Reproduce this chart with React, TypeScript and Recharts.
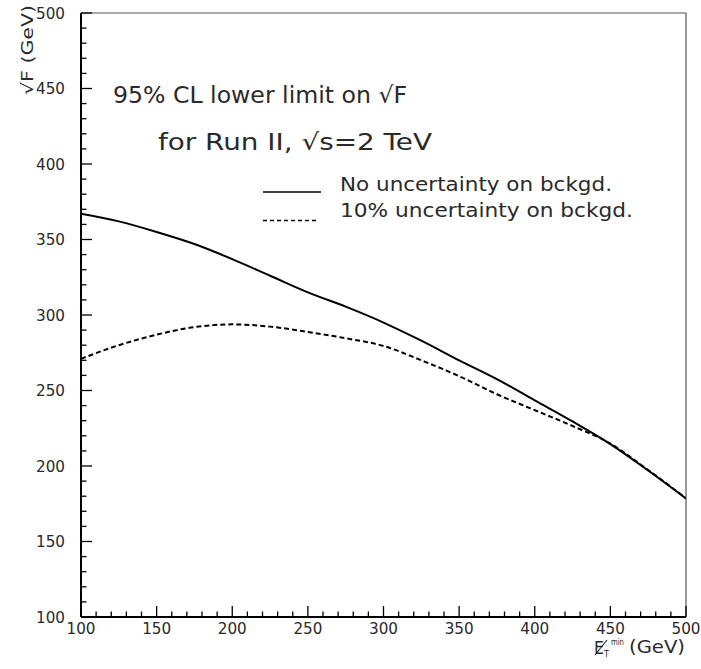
import React from 'react';
import { LineChart, Line, XAxis, YAxis, ReferenceLine, Legend, Customized } from 'recharts';

const etMin = [100, 125, 150, 175, 200, 225, 250, 275, 300, 325, 350, 375, 400, 425, 450, 475, 500];
const noUncertainty = [367, 362, 355, 347, 337, 326, 315, 305.5, 295, 283, 270, 257.5, 243.5, 229.5, 214.5, 197, 178.5];
const tenPctUncertainty = [271, 280, 287, 292, 293.8, 292.3, 288.8, 284.6, 279.5, 270, 259.5, 247.5, 237, 226.5, 214.8, 197.3, 178.6];
const seriesNames = ['No uncertainty on bckgd.', '10% uncertainty on bckgd.'];
const xTicks = [100, 110, 120, 130, 140, 150, 160, 170, 180, 190, 200, 210, 220, 230, 240, 250, 260, 270, 280, 290, 300, 310, 320, 330, 340, 350, 360, 370, 380, 390, 400, 410, 420, 430, 440, 450, 460, 470, 480, 490, 500];
const yTicks = [100, 110, 120, 130, 140, 150, 160, 170, 180, 190, 200, 210, 220, 230, 240, 250, 260, 270, 280, 290, 300, 310, 320, 330, 340, 350, 360, 370, 380, 390, 400, 410, 420, 430, 440, 450, 460, 470, 480, 490, 500];
const majorStep = 50;

const data = etMin.map((x, i) => ({ x, solid: noUncertainty[i], dashed: tenPctUncertainty[i] }));

const FONT = '"DejaVu Sans", sans-serif';
const TXT = '#2a2a2a';

const YTick = (props: any) => {
  const { x, y, payload } = props;
  const v = payload.value;
  const major = v % majorStep === 0;
  return (
    <g>
      <line x1={x} x2={x + (major ? 11 : 5.5)} y1={y} y2={y} stroke="#000" strokeWidth={1.3} />
      {major && (
        <text x={x - 16} y={y + 5.5} textAnchor="end" fontSize={15} fontFamily={FONT} fill={TXT}
          textLength={29} lengthAdjust="spacingAndGlyphs">
          {v}
        </text>
      )}
    </g>
  );
};

const XTick = (props: any) => {
  const { x, y, payload } = props;
  const v = payload.value;
  const major = v % majorStep === 0;
  return (
    <g>
      <line x1={x} x2={x} y1={y} y2={y - (major ? 11 : 5.5)} stroke="#000" strokeWidth={1.3} />
      {major && (
        <text x={x} y={y + 17} textAnchor="middle" fontSize={15} fontFamily={FONT} fill={TXT}
          textLength={29} lengthAdjust="spacingAndGlyphs">
          {v}
        </text>
      )}
    </g>
  );
};

const LegendContent = (props: any) => {
  const items = (props.payload || []).slice().sort(
    (a: any, b: any) => seriesNames.indexOf(a.value) - seriesNames.indexOf(b.value)
  );
  return (
    <svg width={420} height={60} style={{ display: 'block', overflow: 'visible' }}>
      {items.map((it: any, i: number) => {
        const dashed = !!(it.payload && it.payload.strokeDasharray);
        const ly = i === 0 ? 17 : 45.5;
        const ty = i === 0 ? 15.5 : 41.5;
        return (
          <g key={i}>
            <line
              x1={0}
              x2={dashed ? 55 : 58}
              y1={ly}
              y2={ly}
              stroke="#000"
              strokeWidth={1.5}
              strokeDasharray={dashed ? '4 3' : undefined}
            />
            <text
              x={77}
              y={ty}
              fontSize={19}
              fontFamily={FONT}
              fill={TXT}
              textLength={i === 0 ? 272 : 293}
              lengthAdjust="spacingAndGlyphs"
            >
              {it.value}
            </text>
          </g>
        );
      })}
    </svg>
  );
};

const Annotations = () => (
  <g fontFamily={FONT} fill={TXT}>
    <text x={113} y={103} fontSize={23} textLength={294} lengthAdjust="spacingAndGlyphs">
      95% CL lower limit on √F
    </text>
    <text x={158} y={150} fontSize={23} textLength={274} lengthAdjust="spacingAndGlyphs">
      for Run II, √s=2 TeV
    </text>
    <text
      transform="translate(33,5) rotate(-90)"
      x={0}
      y={0}
      textAnchor="end"
      fontSize={16}
      textLength={90}
      lengthAdjust="spacingAndGlyphs"
    >
      √F (GeV)
    </text>
    <text x={594} y={654} fontSize={17} textLength={10} lengthAdjust="spacingAndGlyphs">E</text>
    <line x1={595} y1={655} x2={607} y2={640} stroke={TXT} strokeWidth={1.2} />
    <text x={604} y={657} fontSize={8}>T</text>
    <text x={611} y={645} fontSize={9} textLength={13} lengthAdjust="spacingAndGlyphs">min</text>
    <text x={629} y={653} fontSize={17} textLength={56} lengthAdjust="spacingAndGlyphs">
      (GeV)
    </text>
  </g>
);

export default function App() {
  return (
    <div style={{ position: 'absolute', left: 0, top: 0, width: 701, height: 669, background: '#fff' }}>
      <LineChart width={701} height={669} data={data} margin={{ top: 13, right: 15, left: 0, bottom: 0 }}>
        <XAxis
          dataKey="x"
          type="number"
          domain={[100, 500]}
          ticks={xTicks}
          interval={0}
          tickSize={0}
          tickMargin={0}
          height={52}
          axisLine={{ stroke: '#000', strokeWidth: 2 }}
          tickLine={false}
          tick={<XTick />}
          allowDataOverflow
        />
        <YAxis
          type="number"
          domain={[100, 500]}
          ticks={yTicks}
          interval={0}
          tickSize={0}
          tickMargin={0}
          width={81}
          axisLine={{ stroke: '#000', strokeWidth: 2 }}
          tickLine={false}
          tick={<YTick />}
          allowDataOverflow
        />
        <ReferenceLine y={500} stroke="#555" strokeWidth={1.2} />
        <ReferenceLine x={500} stroke="#555" strokeWidth={1.2} />
        <Line
          type="monotone"
          dataKey="solid"
          name={seriesNames[0]}
          stroke="#000"
          strokeWidth={2}
          dot={false}
          isAnimationActive={false}
        />
        <Line
          type="monotone"
          dataKey="dashed"
          name={seriesNames[1]}
          stroke="#000"
          strokeWidth={2}
          strokeDasharray="5 3"
          dot={false}
          isAnimationActive={false}
        />
        <Legend
          layout="horizontal"
          verticalAlign="middle"
          align="center"
          content={<LegendContent />}
          wrapperStyle={{ position: 'absolute', left: 263, top: 175, width: 420, height: 60 }}
        />
        <Customized component={<Annotations />} />
      </LineChart>
    </div>
  );
}
